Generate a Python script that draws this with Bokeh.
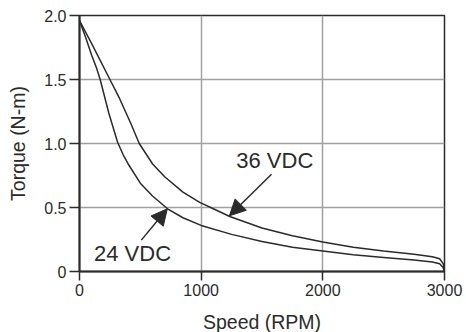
from bokeh.plotting import figure
from bokeh.models import Range1d, Arrow, NormalHead, FixedTicker, ColumnDataSource
from bokeh.core.properties import value
from bokeh.embed import file_html
from bokeh.resources import INLINE

# ---- data ----
speed_24 = [0, 50, 100, 140, 170, 240, 313, 360, 400, 500, 600, 724, 850, 1000, 1250,
            1500, 1750, 2000, 2250, 2500, 2750, 2900, 2960, 2990, 3000]
torque_24 = [1.96, 1.83, 1.69, 1.59, 1.50, 1.24, 1.01, 0.91, 0.84, 0.69, 0.59, 0.49,
             0.42, 0.36, 0.29, 0.235, 0.19, 0.16, 0.13, 0.11, 0.09, 0.075, 0.06, 0.03, 0.0]

speed_36 = [0, 100, 250, 330, 420, 491, 601, 700, 850, 988, 1100, 1235, 1500, 1750,
            2000, 2250, 2500, 2750, 2900, 2960, 2990, 3000]
torque_36 = [1.96, 1.78, 1.50, 1.35, 1.16, 1.00, 0.84, 0.74, 0.62, 0.54, 0.49, 0.43,
             0.34, 0.28, 0.23, 0.19, 0.16, 0.135, 0.115, 0.10, 0.06, 0.0]

x_ticks = [0, 1000, 2000, 3000]
y_ticks = [0, 0.5, 1.0, 1.5, 2.0]
y_tick_labels = ["0", "0.5", "1.0", "1.5", "2.0"]
series_labels = ["36 VDC", "24 VDC"]

# annotation anchor points (label centre, arrow start, arrow tip) in data units
label_36 = (1605, 0.865)
arrow_36 = (1578, 0.76, 1232, 0.435)
label_24 = (436, 0.14)
arrow_24 = (508, 0.245, 722, 0.49)

INK = "#2b2b2b"
GRID = "#a0a0a0"
FONT = "Liberation Sans"

p = figure(frame_width=365, frame_height=256,
           min_border_left=79, min_border_right=21, min_border_top=15, min_border_bottom=60,
           x_range=Range1d(0, 3000), y_range=Range1d(0, 2.0),
           output_backend="svg", toolbar_location=None,
           background_fill_color="white", border_fill_color="white")

p.outline_line_color = INK
p.outline_line_width = 1.5

p.xaxis.axis_label = "Speed (RPM)"
p.yaxis.axis_label = "Torque (N-m)"
p.xaxis.ticker = FixedTicker(ticks=x_ticks)
p.yaxis.ticker = FixedTicker(ticks=y_ticks)
p.yaxis.major_label_overrides = {t: l for t, l in zip(y_ticks, y_tick_labels)}

for ax in (p.xaxis, p.yaxis):
    ax.axis_line_color = INK
    ax.axis_line_width = 2
    ax.major_tick_line_color = INK
    ax.major_tick_line_width = 1.5
    ax.major_tick_in = 0
    ax.minor_tick_line_color = None
    ax.major_label_text_font = FONT
    ax.major_label_text_font_size = "16px"
    ax.major_label_text_color = INK
    ax.axis_label_text_font = FONT
    ax.axis_label_text_font_size = "19.5px"
    ax.axis_label_text_font_style = "normal"
    ax.axis_label_text_color = INK

p.xaxis.major_tick_out = 9
p.yaxis.major_tick_out = 10
p.xaxis.major_label_standoff = 3
p.yaxis.major_label_standoff = 3
p.xaxis.axis_label_standoff = 12
p.yaxis.axis_label_standoff = 12

p.grid.grid_line_color = GRID
p.grid.grid_line_width = 1.5

p.line(speed_24, torque_24, line_color=INK, line_width=1.5)
p.line(speed_36, torque_36, line_color=INK, line_width=1.5)

lab = ColumnDataSource(dict(x=[label_36[0], label_24[0]], y=[label_36[1], label_24[1]],
                            t=series_labels))
p.text(x="x", y="y", text="t", source=lab, text_font=value(FONT), text_font_size="22px",
       text_color=INK, text_align="center", text_baseline="middle")

for (xs, ys, xe, ye) in (arrow_36, arrow_24):
    p.add_layout(Arrow(end=NormalHead(size=16, fill_color=INK, line_color=INK),
                       x_start=xs, y_start=ys, x_end=xe, y_end=ye,
                       line_color=INK, line_width=1.5))

open("out.html", "w").write(file_html(p, INLINE))
